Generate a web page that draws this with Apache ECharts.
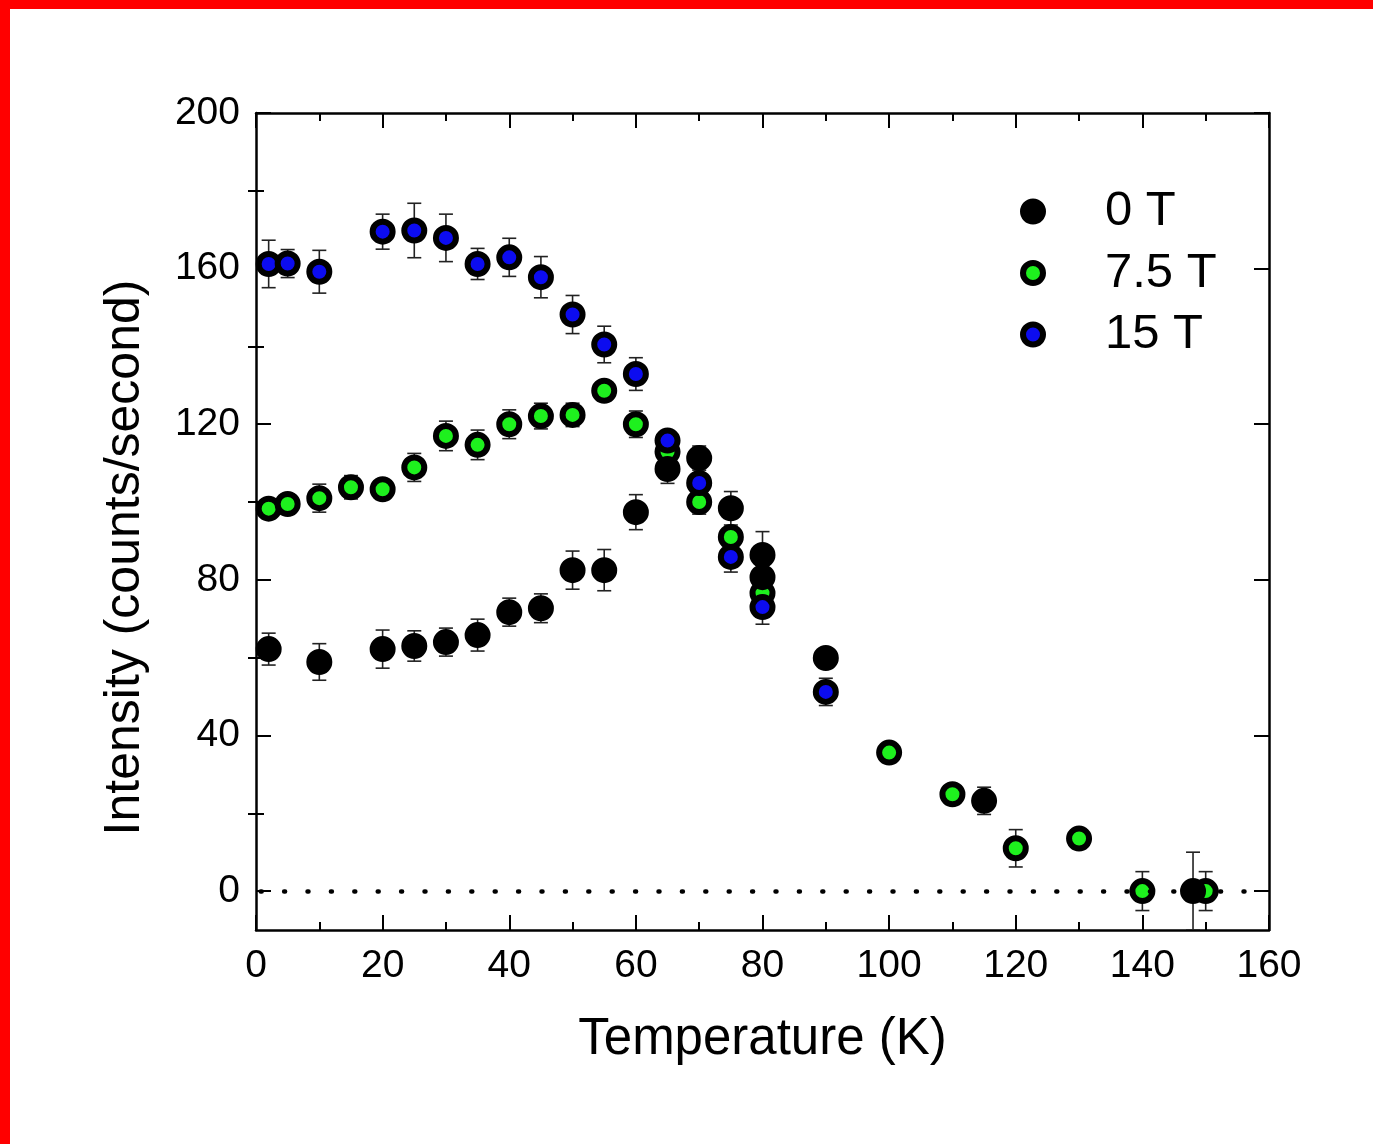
<!DOCTYPE html>
<html>
<head>
<meta charset="utf-8">
<script src="https://cdn.jsdelivr.net/npm/echarts@6/dist/echarts.min.js"></script>
<style>
  html, body { margin: 0; padding: 0; background: #ffffff; }
  #chart { width: 1373px; height: 1144px; }
</style>
</head>
<body>
<div id="chart"></div>
<script>
// Temperature (K) of each measurement
const temp0T   = [2, 10, 20, 25, 30, 35, 40, 45, 50, 55, 60, 65, 70, 75, 80, 80, 90, 115, 148];
const int0T    = [62.2, 58.9, 62.2, 63.0, 64.0, 65.8, 71.7, 72.7, 82.5, 82.5, 97.4, 108.5, 111.3, 98.4, 86.4, 80.7, 59.9, 23.2, 0];
const err0T    = [4.1, 4.7, 4.9, 3.9, 3.6, 4.1, 3.6, 3.7, 4.9, 5.3, 4.5, 3.7, 3.1, 4.3, 6.0, 2.0, 1.5, 3.5, 10];

const temp75T  = [2, 5, 10, 15, 20, 25, 30, 35, 40, 45, 50, 55, 60, 65, 70, 75, 80, 100, 110, 120, 130, 140, 150];
const int75T   = [98.3, 99.5, 101.0, 103.8, 103.3, 108.9, 117.0, 114.7, 120.0, 122.1, 122.4, 128.6, 120.0, 112.9, 100.0, 91.0, 76.6, 35.6, 24.9, 11.0, 13.5, 0, 0];
const err75T   = [2.0, 2.5, 3.6, 3.0, 2.5, 3.6, 3.8, 3.8, 3.7, 3.3, 3.0, 2.5, 3.4, 2.0, 3.1, 2.5, 2.5, 2.0, 2.0, 4.8, 2.5, 5.0, 5.0];

const temp15T  = [2, 5, 10, 20, 25, 30, 35, 40, 45, 50, 55, 60, 65, 70, 75, 80, 90];
const int15T   = [161.2, 161.3, 159.2, 169.5, 169.8, 167.9, 161.2, 162.9, 157.8, 148.2, 140.5, 132.9, 115.8, 104.9, 85.9, 73.0, 51.2];
const err15T   = [6.1, 3.6, 5.5, 4.5, 7.0, 6.1, 4.0, 4.9, 5.3, 4.9, 4.7, 4.2, 2.0, 2.0, 3.9, 4.4, 3.5];

const seriesNames = ['0 T', '7.5 T', '15 T'];
const yMajorTicks = [0, 40, 80, 120, 160, 200];
const yMinorTicks = [20, 60, 100, 140, 180];

const FONT = "'Liberation Sans', Arial, Helvetica, sans-serif";

function points(t, v, e) {
  return t.map((x, i) => [x, v[i], e[i]]);
}

// vertical error bar with short caps
function errorBarRender(params, api) {
  const x = api.value(0), y = api.value(1), e = api.value(2);
  const top = api.coord([x, y + e]);
  const bot = api.coord([x, y - e]);
  const hw = 7;
  const style = { stroke: '#222222', lineWidth: 1.6 };
  return {
    type: 'group',
    children: [
      { type: 'line', shape: { x1: top[0], y1: top[1], x2: bot[0], y2: bot[1] }, style },
      { type: 'line', shape: { x1: top[0] - hw, y1: top[1], x2: top[0] + hw, y2: top[1] }, style },
      { type: 'line', shape: { x1: bot[0] - hw, y1: bot[1], x2: bot[0] + hw, y2: bot[1] }, style }
    ]
  };
}

function errorSeries(data) {
  return {
    type: 'custom',
    renderItem: errorBarRender,
    data: data,
    clip: true,
    z: 2,
    silent: true,
    encode: { x: 0, y: 1 }
  };
}

const frameLine = { show: true, onZero: false, lineStyle: { color: '#000', width: 2.5 } };

const chart = echarts.init(document.getElementById('chart'), null, { renderer: 'canvas' });

chart.setOption({
  backgroundColor: '#ffffff',
  animation: false,
  graphic: [
    { type: 'rect', shape: { x: 0, y: 0, width: 1373, height: 9 }, style: { fill: '#ff0000' }, z: 100 },
    { type: 'rect', shape: { x: 0, y: 0, width: 10, height: 1144 }, style: { fill: '#ff0000' }, z: 100 }
  ],
  grid: { left: 256, top: 113, width: 1013, height: 817, containLabel: false },
  legend: {
    data: seriesNames,
    orient: 'vertical',
    left: 1020,
    top: 187,
    padding: 0,
    icon: 'circle',
    itemWidth: 134,
    itemHeight: 20,
    itemGap: 12.5,
    itemStyle: { borderWidth: 6, borderColor: '#000' },
    textStyle: { fontFamily: FONT, fontSize: 49, color: '#000' },
    selectedMode: false
  },
  xAxis: [
    {
      type: 'value', position: 'bottom', min: 0, max: 160, interval: 20,
      axisLine: frameLine,
      axisTick: { show: true, inside: true, length: 15, lineStyle: { color: '#000', width: 2 } },
      minorTick: { show: true, splitNumber: 2, length: 8, lineStyle: { color: '#000', width: 2 } },
      axisLabel: { fontFamily: FONT, fontSize: 39, color: '#000', margin: 17 },
      splitLine: { show: false },
      name: 'Temperature (K)', nameLocation: 'middle', nameGap: 84,
      nameTextStyle: { fontFamily: FONT, fontSize: 51, color: '#000' }
    },
    {
      type: 'value', position: 'top', min: 0, max: 160, interval: 20,
      axisLine: frameLine,
      axisTick: { show: true, inside: true, length: 15, lineStyle: { color: '#000', width: 2 } },
      minorTick: { show: true, splitNumber: 2, length: 8, lineStyle: { color: '#000', width: 2 } },
      axisLabel: { show: false },
      splitLine: { show: false }
    }
  ],
  yAxis: [
    {
      type: 'value', position: 'left', min: -10, max: 200,
      axisLine: frameLine,
      axisTick: { show: true, inside: true, length: 15, customValues: yMajorTicks, lineStyle: { color: '#000', width: 2 } },
      axisLabel: { fontFamily: FONT, fontSize: 39, color: '#000', margin: 16, customValues: yMajorTicks },
      splitLine: { show: false },
      name: 'Intensity (counts/second)', nameLocation: 'middle', nameGap: 106, nameRotate: 90,
      nameTextStyle: { fontFamily: FONT, fontSize: 50, color: '#000', padding: [0, 72, 0, 0] }
    },
    {
      type: 'value', position: 'left', min: -10, max: 200,
      axisLine: { show: false },
      axisTick: { show: true, inside: true, length: 8, customValues: yMinorTicks, lineStyle: { color: '#000', width: 2 } },
      axisLabel: { show: false },
      splitLine: { show: false }
    },
    {
      type: 'value', position: 'right', min: -10, max: 200,
      axisLine: frameLine,
      axisTick: { show: true, inside: true, length: 15, customValues: yMajorTicks, lineStyle: { color: '#000', width: 2 } },
      axisLabel: { show: false },
      splitLine: { show: false }
    },
    {
      type: 'value', position: 'right', min: -10, max: 200,
      axisLine: { show: false },
      axisTick: { show: true, inside: true, length: 8, customValues: yMinorTicks, lineStyle: { color: '#000', width: 2 } },
      axisLabel: { show: false },
      splitLine: { show: false }
    }
  ],
  series: [
    errorSeries(points(temp75T, int75T, err75T)),
    errorSeries(points(temp0T, int0T, err0T)),
    errorSeries(points(temp15T, int15T, err15T)),
    {
      name: '7.5 T', type: 'scatter', z: 3,
      data: points(temp75T, int75T, err75T),
      symbol: 'circle', symbolSize: 20,
      itemStyle: { color: '#1ef01e', borderColor: '#000', borderWidth: 6, opacity: 1 },
      markLine: {
        silent: true, symbol: 'none', label: { show: false },
        lineStyle: { color: '#000', width: 4.5, type: [1, 22.4], cap: 'round', dashOffset: 18.7 },
        data: [[{ coord: [0, 0] }, { coord: [158, 0] }]]
      }
    },
    {
      name: '0 T', type: 'scatter', z: 4,
      data: points(temp0T, int0T, err0T),
      symbol: 'circle', symbolSize: 20,
      itemStyle: { color: '#000', borderColor: '#000', borderWidth: 6, opacity: 1 }
    },
    {
      name: '15 T', type: 'scatter', z: 5,
      data: points(temp15T, int15T, err15T),
      symbol: 'circle', symbolSize: 20,
      itemStyle: { color: '#0c0cf0', borderColor: '#000', borderWidth: 6, opacity: 1 }
    }
  ]
});
</script>
</body>
</html>
